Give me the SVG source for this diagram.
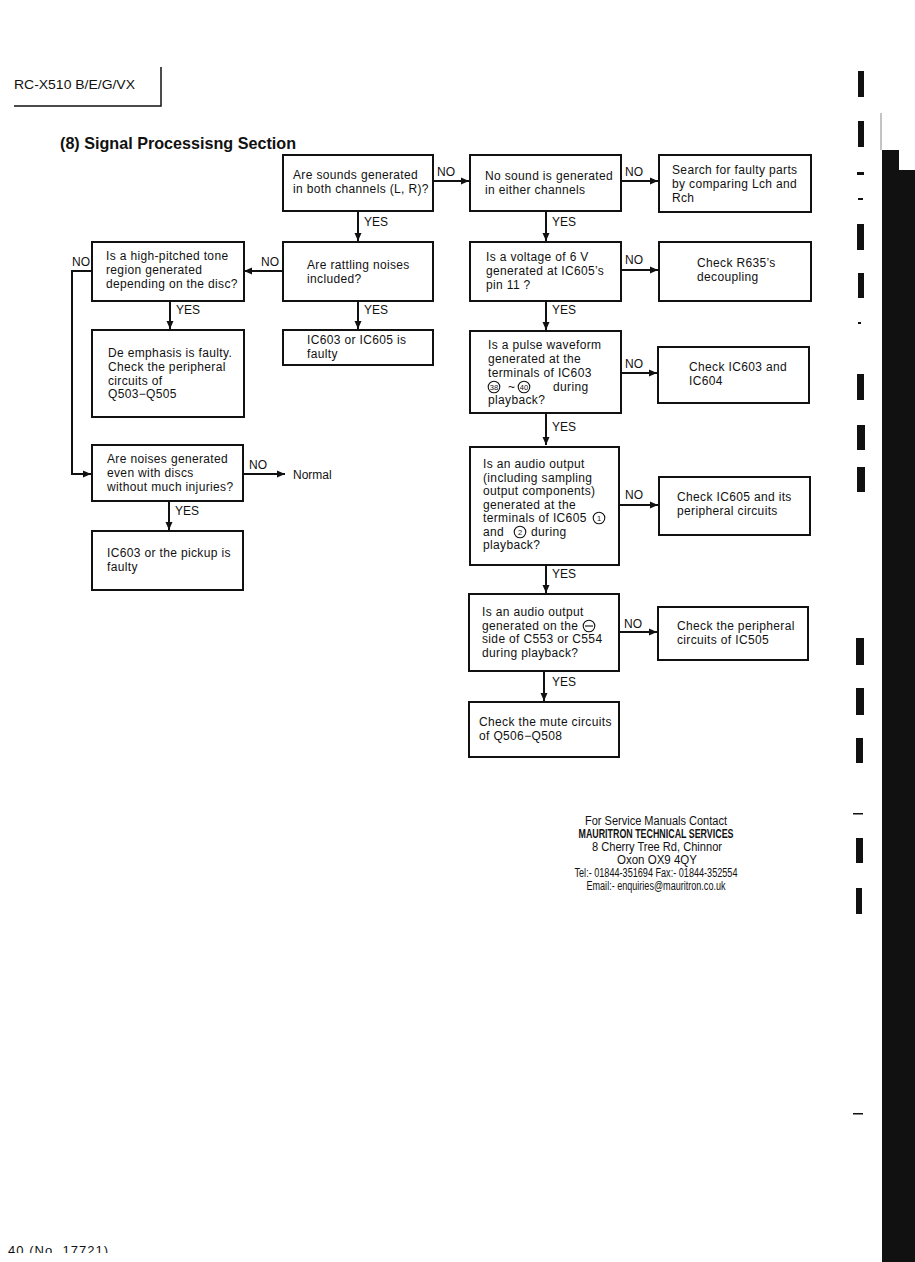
<svg xmlns="http://www.w3.org/2000/svg" width="915" height="1262" viewBox="0 0 915 1262">
<defs>
<marker id="ah" markerUnits="userSpaceOnUse" markerWidth="9" markerHeight="8" refX="8" refY="4" orient="auto">
<path d="M0,0.5 L8,4 L0,7.5 Z" fill="#111"/>
</marker>
<clipPath id="pg"><rect x="0" y="0" width="300" height="1253"/></clipPath>
<style>
.box{fill:#fff;stroke:#111;stroke-width:2}
.t{font-family:"Liberation Sans",Arial,sans-serif;font-size:12px;fill:#111;letter-spacing:0.35px}
.lb{font-family:"Liberation Sans",Arial,sans-serif;font-size:12px;fill:#111}
.c{fill:none;stroke:#111;stroke-width:2}
.cir{fill:none;stroke:#111;stroke-width:1.1}
.sm{font-family:"Liberation Sans",Arial,sans-serif;font-size:7.5px;fill:#111;text-anchor:middle}
.ft{font-family:"Liberation Sans",Arial,sans-serif;font-size:12px;fill:#111;text-anchor:middle}
.mk{fill:#111}
</style>
</defs>
<rect width="915" height="1262" fill="#fff"/>

<g id="header">
<text x="14" y="89" font-family="'Liberation Sans',Arial,sans-serif" font-size="13" fill="#111" textLength="121" lengthAdjust="spacingAndGlyphs">RC-X510 B/E/G/VX</text>
<path d="M161,67 V106 H14" fill="none" stroke="#111" stroke-width="1.5"/>
<text x="60" y="149" font-family="'Liberation Sans',Arial,sans-serif" font-size="16.5" font-weight="bold" fill="#111" textLength="236" lengthAdjust="spacingAndGlyphs">(8)  Signal Processisng Section</text>
</g>

<g id="connectors">
<path class="c" d="M433,181 H469" marker-end="url(#ah)"/>
<path class="c" d="M621,181 H658" marker-end="url(#ah)"/>
<path class="c" d="M358,212 V241" marker-end="url(#ah)"/>
<path class="c" d="M546,212 V241" marker-end="url(#ah)"/>
<path class="c" d="M621,270 H658" marker-end="url(#ah)"/>
<path class="c" d="M283,271 H244" marker-end="url(#ah)"/>
<path class="c" d="M92,271 H72 V474 H91" marker-end="url(#ah)"/>
<path class="c" d="M170,301 V329" marker-end="url(#ah)"/>
<path class="c" d="M358,301 V329" marker-end="url(#ah)"/>
<path class="c" d="M546,301 V330" marker-end="url(#ah)"/>
<path class="c" d="M621,373 H657" marker-end="url(#ah)"/>
<path class="c" d="M546,413 V445" marker-end="url(#ah)"/>
<path class="c" d="M619,505 H658" marker-end="url(#ah)"/>
<path class="c" d="M546,565 V593" marker-end="url(#ah)"/>
<path class="c" d="M619,632 H657" marker-end="url(#ah)"/>
<path class="c" d="M544,671 V701" marker-end="url(#ah)"/>
<path class="c" d="M169,501 V530" marker-end="url(#ah)"/>
<path class="c" d="M243,474 H285" marker-end="url(#ah)"/>
<text class="lb" x="437" y="176">NO</text>
<text class="lb" x="625" y="176">NO</text>
<text class="lb" x="625" y="264">NO</text>
<text class="lb" x="261" y="266">NO</text>
<text class="lb" x="72" y="266">NO</text>
<text class="lb" x="625" y="368">NO</text>
<text class="lb" x="625" y="499">NO</text>
<text class="lb" x="624" y="628">NO</text>
<text class="lb" x="249" y="469">NO</text>
<text class="lb" x="364" y="226">YES</text>
<text class="lb" x="552" y="226">YES</text>
<text class="lb" x="364" y="314">YES</text>
<text class="lb" x="552" y="314">YES</text>
<text class="lb" x="176" y="314">YES</text>
<text class="lb" x="552" y="431">YES</text>
<text class="lb" x="552" y="578">YES</text>
<text class="lb" x="552" y="686">YES</text>
<text class="lb" x="175" y="515">YES</text>
<text class="lb" x="293" y="479">Normal</text>
</g>

<g id="nA">
<rect class="box" x="283" y="155" width="150" height="56"/>
<text class="t" x="293" y="179">Are sounds generated</text>
<text class="t" x="293" y="193">in both channels (L, R)?</text>
</g>
<g id="nB">
<rect class="box" x="470" y="155" width="151" height="56"/>
<text class="t" x="485" y="180">No sound is generated</text>
<text class="t" x="485" y="194">in either channels</text>
</g>
<g id="nC">
<rect class="box" x="659" y="155" width="152" height="57"/>
<text class="t" x="672" y="174">Search for faulty parts</text>
<text class="t" x="672" y="188">by comparing Lch and</text>
<text class="t" x="672" y="202">Rch</text>
</g>
<g id="nD">
<rect class="box" x="283" y="242" width="150" height="59"/>
<text class="t" x="307" y="269">Are rattling noises</text>
<text class="t" x="307" y="283">included?</text>
</g>
<g id="nE">
<rect class="box" x="470" y="242" width="151" height="59"/>
<text class="t" x="486" y="261">Is a voltage of 6 V</text>
<text class="t" x="486" y="275">generated at IC605’s</text>
<text class="t" x="486" y="289">pin 11 ?</text>
</g>
<g id="nF">
<rect class="box" x="659" y="242" width="152" height="59"/>
<text class="t" x="697" y="267">Check R635’s</text>
<text class="t" x="697" y="281">decoupling</text>
</g>
<g id="nG">
<rect class="box" x="92" y="242" width="152" height="59"/>
<text class="t" x="106" y="260">Is a high-pitched tone</text>
<text class="t" x="106" y="274">region generated</text>
<text class="t" x="106" y="288">depending on the disc?</text>
</g>
<g id="nH">
<rect class="box" x="92" y="330" width="152" height="87"/>
<text class="t" x="108" y="357">De emphasis is faulty.</text>
<text class="t" x="108" y="371">Check the peripheral</text>
<text class="t" x="108" y="385">circuits of</text>
<text class="t" x="108" y="398">Q503−Q505</text>
</g>
<g id="nJ">
<rect class="box" x="283" y="330" width="150" height="35"/>
<text class="t" x="307" y="344">IC603 or IC605 is</text>
<text class="t" x="307" y="358">faulty</text>
</g>
<g id="nK">
<rect class="box" x="470" y="331" width="151" height="82"/>
<text class="t" x="488" y="349">Is a pulse waveform</text>
<text class="t" x="488" y="363">generated at the</text>
<text class="t" x="488" y="377">terminals of IC603</text>
<circle class="cir" cx="494" cy="387" r="5.8"/>
<text class="sm" x="494" y="389.6">38</text>
<text class="t" x="508" y="391">~</text>
<circle class="cir" cx="524" cy="387" r="5.8"/>
<text class="sm" x="524" y="389.6">40</text>
<text class="t" x="553" y="391">during</text>
<text class="t" x="488" y="404">playback?</text>
</g>
<g id="nL">
<rect class="box" x="658" y="347" width="151" height="56"/>
<text class="t" x="689" y="371">Check IC603 and</text>
<text class="t" x="689" y="385">IC604</text>
</g>
<g id="nM">
<rect class="box" x="470" y="447" width="149" height="118"/>
<text class="t" x="483" y="468">Is an audio output</text>
<text class="t" x="483" y="482">(including sampling</text>
<text class="t" x="483" y="495">output components)</text>
<text class="t" x="483" y="509">generated at the</text>
<text class="t" x="483" y="522">terminals of IC605</text>
<circle class="cir" cx="599" cy="518" r="5.8"/>
<text class="sm" x="599" y="520.7">1</text>
<text class="t" x="483" y="536">and</text>
<circle class="cir" cx="520" cy="532" r="5.8"/>
<text class="sm" x="520" y="534.7">2</text>
<text class="t" x="531" y="536">during</text>
<text class="t" x="483" y="549">playback?</text>
</g>
<g id="nQ">
<rect class="box" x="659" y="477" width="151" height="58"/>
<text class="t" x="677" y="501">Check IC605 and its</text>
<text class="t" x="677" y="515">peripheral circuits</text>
</g>
<g id="nN">
<rect class="box" x="469" y="594" width="150" height="77"/>
<text class="t" x="482" y="616">Is an audio output</text>
<text class="t" x="482" y="630">generated on the</text>
<circle class="cir" cx="589" cy="626" r="5.8"/>
<line x1="585" y1="626" x2="593" y2="626" stroke="#111" stroke-width="1.1"/>
<text class="t" x="482" y="643">side of C553 or C554</text>
<text class="t" x="482" y="657">during playback?</text>
</g>
<g id="nP">
<rect class="box" x="658" y="607" width="150" height="53"/>
<text class="t" x="677" y="630">Check the peripheral</text>
<text class="t" x="677" y="644">circuits of IC505</text>
</g>
<g id="nR">
<rect class="box" x="469" y="702" width="150" height="55"/>
<text class="t" x="479" y="726">Check the mute circuits</text>
<text class="t" x="479" y="740">of Q506−Q508</text>
</g>
<g id="nI">
<rect class="box" x="92" y="445" width="151" height="56"/>
<text class="t" x="107" y="463">Are noises generated</text>
<text class="t" x="107" y="477">even with discs</text>
<text class="t" x="107" y="491">without much injuries?</text>
</g>
<g id="nS">
<rect class="box" x="92" y="531" width="151" height="59"/>
<text class="t" x="107" y="557">IC603 or the pickup is</text>
<text class="t" x="107" y="571">faulty</text>
</g>

<g id="contact">
<text class="ft" x="656" y="825" textLength="142" lengthAdjust="spacingAndGlyphs">For Service Manuals Contact</text>
<text class="ft" x="656" y="838" font-weight="bold" textLength="155" lengthAdjust="spacingAndGlyphs">MAURITRON TECHNICAL SERVICES</text>
<text class="ft" x="657" y="851" textLength="130" lengthAdjust="spacingAndGlyphs">8 Cherry Tree Rd, Chinnor</text>
<text class="ft" x="657" y="864" textLength="80" lengthAdjust="spacingAndGlyphs">Oxon OX9 4QY</text>
<text class="ft" x="656" y="877" textLength="163" lengthAdjust="spacingAndGlyphs">Tel:- 01844-351694 Fax:- 01844-352554</text>
<text class="ft" x="656" y="890" textLength="139" lengthAdjust="spacingAndGlyphs">Email:- enquiries@mauritron.co.uk</text>
</g>

<g id="footer">
<text x="8" y="1255" clip-path="url(#pg)" font-family="'Liberation Sans',Arial,sans-serif" font-size="13" fill="#111" textLength="100" lengthAdjust="spacing">40 (No. 17721)</text>
</g>

<g id="margin">
<path class="mk" d="M882,150 H899 V170 H915 V1262 H882 Z"/>
<line x1="881" y1="113" x2="881" y2="150" stroke="#888" stroke-width="1"/>
<rect class="mk" x="858" y="71" width="6" height="26"/>
<rect class="mk" x="858" y="121" width="6" height="26"/>
<rect class="mk" x="857" y="172" width="7" height="3"/>
<rect class="mk" x="858" y="198" width="5" height="2"/>
<rect class="mk" x="857" y="224" width="7" height="26"/>
<rect class="mk" x="858" y="273" width="6" height="25"/>
<rect class="mk" x="858" y="322" width="3" height="2"/>
<rect class="mk" x="857" y="374" width="7" height="26"/>
<rect class="mk" x="857" y="425" width="8" height="25"/>
<rect class="mk" x="857" y="467" width="8" height="25"/>
<rect class="mk" x="856" y="638" width="8" height="27"/>
<rect class="mk" x="856" y="688" width="8" height="27"/>
<rect class="mk" x="856" y="738" width="7" height="25"/>
<rect class="mk" x="853" y="813" width="10" height="1.5"/>
<rect class="mk" x="856" y="838" width="7" height="25"/>
<rect class="mk" x="856" y="888" width="6" height="26"/>
<rect class="mk" x="853" y="1113" width="10" height="1.5"/>
</g>
</svg>
